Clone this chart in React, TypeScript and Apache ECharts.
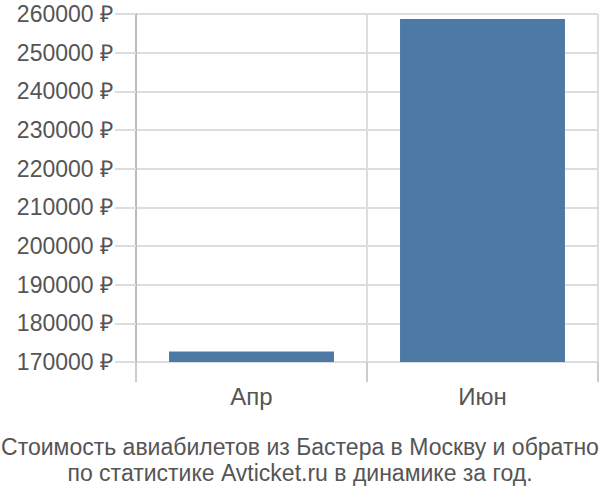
import React, { useEffect, useRef } from "react";
import * as echarts from "echarts";

const categories = ["Апр", "Июн"];
const prices = [172700, 258700];
const yMin = 170000;
const yMax = 260000;
const yStep = 10000;
const titleLines = [
  "Стоимость авиабилетов из Бастера в Москву и обратно",
  "по статистике Avticket.ru в динамике за год.",
];

export default function App() {
  const ref = useRef<HTMLDivElement>(null);
  useEffect(() => {
    document.body.style.margin = "0";
    const chart = echarts.init(ref.current!, undefined, { renderer: "svg" });
    const font = "'Liberation Sans', Arial, sans-serif";
    chart.setOption({
      animation: false,
      title: {
        text: titleLines.join("\n"),
        left: "center",
        top: 434,
        padding: 0,
        textStyle: {
          fontFamily: font,
          fontSize: 23,
          lineHeight: 26,
          fontWeight: "normal",
          color: "#555",
        },
      },
      grid: { left: 136, right: 2, top: 14, bottom: 138, containLabel: false },
      xAxis: {
        type: "category",
        data: categories,
        axisLine: { show: false },
        axisTick: { show: true, length: 20, lineStyle: { color: "#ccc", width: 2 } },
        splitLine: { show: true, lineStyle: { color: "#ddd", width: 2 } },
        axisLabel: { fontFamily: font, fontSize: 24, color: "#555", margin: 22 },
      },
      yAxis: {
        type: "value",
        min: yMin,
        max: yMax,
        interval: yStep,
        axisLine: { show: true, lineStyle: { color: "#bbb", width: 2 } },
        axisTick: { show: true, length: 21, lineStyle: { color: "#ddd", width: 2 } },
        splitLine: { show: true, lineStyle: { color: "#ddd", width: 2 } },
        axisLabel: {
          fontFamily: font,
          fontSize: 23,
          color: "#555",
          margin: 23,
          formatter: (v: number) => `${v} ₽`,
        },
      },
      series: [
        {
          type: "bar",
          data: prices,
          barCategoryGap: "28.6%",
          itemStyle: { color: "#4d79a6" },
        },
      ],
    });
    return () => chart.dispose();
  }, []);
  return <div ref={ref} style={{ width: 600, height: 500 }} />;
}
